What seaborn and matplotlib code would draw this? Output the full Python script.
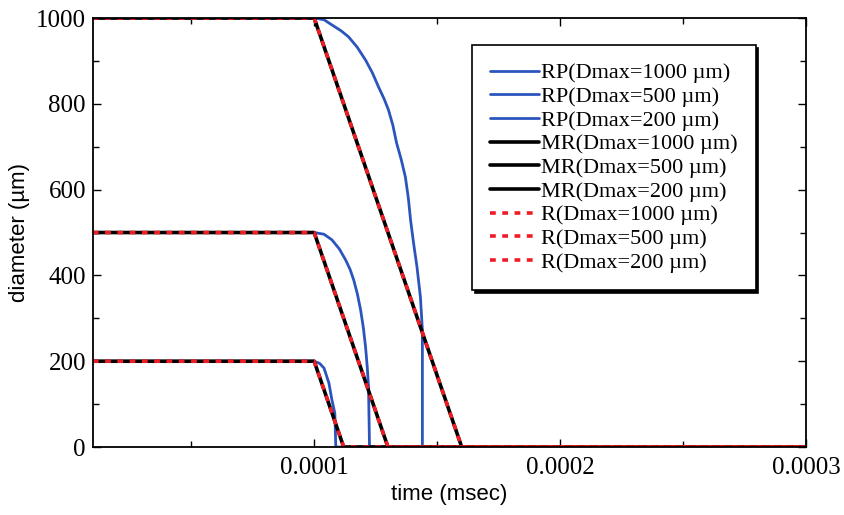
import numpy as np
import pandas as pd
import matplotlib
matplotlib.use("Agg")
import matplotlib.pyplot as plt
from matplotlib.ticker import MultipleLocator
import seaborn as sns

# time (msec) / diameter (um)
rp1000_t = [0, 0.0001, 0.000104, 0.0001072, 0.000111, 0.000114, 0.0001175, 0.0001209,
            0.0001237, 0.0001262, 0.0001284, 0.0001302, 0.000132, 0.0001335, 0.0001354,
            0.0001371, 0.0001383, 0.0001392, 0.0001404, 0.0001418, 0.0001432, 0.000144,
            0.000144, 0.0003]
rp1000_d = [1000, 1000, 996, 984, 970, 956, 932, 902, 872, 839, 812, 786, 750, 709, 670,
            629, 580, 529, 476, 420, 350, 273, 0, 0]
rp500_t = [0, 0.0001, 0.000104, 0.0001072, 0.0001102, 0.0001128, 0.0001146, 0.0001161,
           0.0001176, 0.0001189, 0.00012, 0.0001209, 0.0001216, 0.0001221, 0.0001225, 0.0003]
rp500_d = [500, 500, 496, 483, 462, 436, 414, 389, 356, 319, 278, 233, 185, 140, 0, 0]
rp200_t = [0, 0.0001, 0.0001022, 0.000104, 0.000106, 0.0001072, 0.0001084, 0.0001088, 0.0003]
rp200_d = [200, 200, 195, 184, 149, 110, 79, 0, 0]

mr1000_t = [0, 0.0001, 0.00016, 0.0003]
mr1000_d = [1000, 1000, 0, 0]
mr500_t = [0, 0.0001, 0.00013, 0.0003]
mr500_d = [500, 500, 0, 0]
mr200_t = [0, 0.0001, 0.000112, 0.0003]
mr200_d = [200, 200, 0, 0]

# R model coincides with MR
r1000_t, r1000_d = mr1000_t, mr1000_d
r500_t, r500_d = mr500_t, mr500_d
r200_t, r200_d = mr200_t, mr200_d

sns.set_style("ticks", {"text.color": "black", "axes.labelcolor": "black",
                        "xtick.color": "black", "ytick.color": "black"})
plt.rcParams["font.family"] = ["Liberation Serif", "DejaVu Serif"]

fig = plt.figure(figsize=(8.44, 5.15), dpi=100)
ax = fig.add_axes([0.110, 0.132, 0.845, 0.833])

blue = "#2b55bd"
red = "#ee1c25"

series = [
    ("RP(Dmax=1000 \u00b5m)", rp1000_t, rp1000_d, blue, "-", 2.0),
    ("RP(Dmax=500 \u00b5m)", rp500_t, rp500_d, blue, "-", 2.0),
    ("RP(Dmax=200 \u00b5m)", rp200_t, rp200_d, blue, "-", 2.0),
    ("MR(Dmax=1000 \u00b5m)", mr1000_t, mr1000_d, "black", "-", 2.6),
    ("MR(Dmax=500 \u00b5m)", mr500_t, mr500_d, "black", "-", 2.6),
    ("MR(Dmax=200 \u00b5m)", mr200_t, mr200_d, "black", "-", 2.6),
    ("R(Dmax=1000 \u00b5m)", r1000_t, r1000_d, red, "--", 2.6),
    ("R(Dmax=500 \u00b5m)", r500_t, r500_d, red, "--", 2.6),
    ("R(Dmax=200 \u00b5m)", r200_t, r200_d, red, "--", 2.6),
]

for label, t, d, color, ls, lw in series:
    df = pd.DataFrame({"t": t, "d": d})
    sns.lineplot(data=df, x="t", y="d", ax=ax, color=color, linewidth=lw,
                 label=label, estimator=None, sort=False)
    if ls == "--":
        ax.lines[-1].set_dashes((1.6, 1.8))

ax.set_xlim(0.00001, 0.0003)
ax.set_ylim(0, 1000)
ax.set_xticks([0.0001, 0.0002, 0.0003])
ax.set_xticklabels(["0.0001", "0.0002", "0.0003"])
ax.xaxis.set_minor_locator(MultipleLocator(0.00005))
ax.set_yticks([0, 200, 400, 600, 800, 1000])
ax.yaxis.set_minor_locator(MultipleLocator(100))
ax.tick_params(which="both", direction="in", top=True, right=True, width=1.0,
               colors="black")
ax.tick_params(which="major", length=6, labelsize=18)
ax.tick_params(which="minor", length=4)
ax.tick_params(axis="y", pad=5)
ax.tick_params(axis="x", pad=7)
for s in ax.spines.values():
    s.set_linewidth(1.3)
    s.set_color("black")

ax.set_xlabel("time (msec)", fontsize=16, family=["Liberation Sans", "DejaVu Sans"],
              labelpad=4, color="black")
ax.set_ylabel("diameter (\u00b5m)", fontsize=16, family=["Liberation Sans", "DejaVu Sans"],
              labelpad=4, color="black")

leg = ax.legend(loc="upper left", bbox_to_anchor=(0.532, 0.937), fontsize=16,
                frameon=True, fancybox=False, framealpha=1, edgecolor="black",
                shadow={"color": "black", "alpha": 1}, handlelength=2.2,
                handletextpad=0.1, labelspacing=0.14, borderpad=0.8,
                borderaxespad=0)
leg.get_frame().set_linewidth(1.2)
for txt in leg.get_texts():
    txt.set_color("black")

fig.savefig("out.png", dpi=100)
